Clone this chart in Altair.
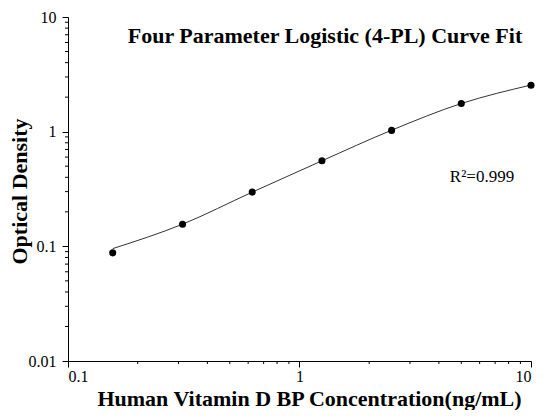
import altair as alt
import pandas as pd

# ---- data ----
conc = [0.156, 0.3125, 0.625, 1.25, 2.5, 5, 10]
od = [0.0877, 0.156, 0.297, 0.557, 1.026, 1.76, 2.54]
fit_od = [0.0955, 0.156, 0.297, 0.557, 1.03, 1.76, 2.55]

x_major = [0.1, 1, 10]
y_major = [0.01, 0.1, 1, 10]
x_minor = [0.2, 0.3, 0.4, 0.5, 0.6, 0.7, 0.8, 0.9, 2, 3, 4, 5, 6, 7, 8, 9]
y_minor = [0.02, 0.03, 0.04, 0.05, 0.06, 0.07, 0.08, 0.09,
           0.2, 0.3, 0.4, 0.5, 0.6, 0.7, 0.8, 0.9,
           2, 3, 4, 5, 6, 7, 8, 9]

title_text = "Four Parameter Logistic (4-PL) Curve Fit"
r2_text = "R²=0.999"
x_title = "Human Vitamin D BP Concentration(ng/mL)"
y_title = "Optical Density"

FONT = "Liberation Serif"
L, T, B = 60, 9, 49
W, H = 463, 344

pts = pd.DataFrame({"conc": conc, "od": od})
fit = pd.DataFrame({"conc": conc, "od": fit_od})
xmin_df = pd.DataFrame({"conc": x_minor})
ymin_df = pd.DataFrame({"od": y_minor})

xs = alt.Scale(type="log", domain=[0.1, 10], nice=False)
ys = alt.Scale(type="log", domain=[0.01, 10], nice=False)

x_axis = alt.Axis(values=x_major, format="~g", title=x_title, tickSize=6,
                  labelPadding=1, labelFont=FONT, labelFontSize=16,
                  titleFont=FONT, titleFontSize=22, titleFontWeight="bold",
                  titleX=241, titleY=44, titleBaseline="alphabetic",
                  grid=False)
y_axis = alt.Axis(values=y_major, format="~g", title=y_title, tickSize=6,
                  labelPadding=6, labelFont=FONT, labelFontSize=16,
                  titleFont=FONT, titleFontSize=22, titleFontWeight="bold",
                  titleX=-42, titleY=174, titleAngle=-90,
                  titleBaseline="alphabetic", grid=False)

X = alt.X("conc:Q", scale=xs, axis=x_axis)
Y = alt.Y("od:Q", scale=ys, axis=y_axis)

line = alt.Chart(fit).mark_line(interpolate="monotone", color="#333333",
                                strokeWidth=1).encode(x=X, y=Y)

points = alt.Chart(pts).mark_circle(color="black", opacity=1, size=50).encode(
    x=X, y=Y)

xminor = alt.Chart(xmin_df).mark_rule(color="black", strokeWidth=1).encode(
    x=X, y=alt.value(H), y2=alt.value(H + 3))
yminor = alt.Chart(ymin_df).mark_rule(color="black", strokeWidth=1).encode(
    y=Y, x=alt.value(0), x2=alt.value(-3))

title = alt.Chart(pd.DataFrame({"t": [title_text]})).mark_text(
    font=FONT, fontSize=22, fontWeight="bold", color="black",
    align="center", baseline="alphabetic").encode(
    text="t:N", x=alt.value(257), y=alt.value(26))

r2 = alt.Chart(pd.DataFrame({"t": [r2_text]})).mark_text(
    font=FONT, fontSize=17, color="black",
    align="center", baseline="alphabetic").encode(
    text="t:N", x=alt.value(414), y=alt.value(165))

chart = alt.layer(line, points, xminor, yminor, title, r2).properties(
    width=W, height=H,
    autosize=alt.AutoSizeParams(type="none"),
    padding={"left": L, "top": T, "right": 8, "bottom": B},
).configure_view(stroke=None).configure_axis(
    labelFont=FONT, titleFont=FONT, labelColor="black", titleColor="black",
    domainColor="black", tickColor="black", domainWidth=1, tickWidth=1,
)

chart.save("out.html", embed_options={"renderer": "svg", "actions": False})
